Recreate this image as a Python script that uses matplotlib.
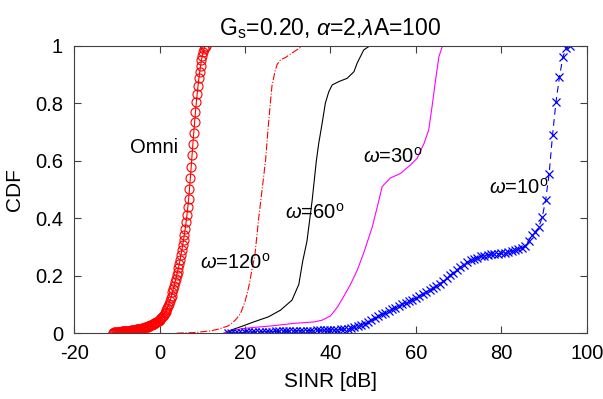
import matplotlib
matplotlib.use('Agg')
import matplotlib.pyplot as plt

plt.rcParams['font.family'] = ['Liberation Sans', 'DejaVu Sans']
plt.rcParams['mathtext.fontset'] = 'custom'
plt.rcParams['mathtext.rm'] = 'Liberation Sans'
plt.rcParams['mathtext.it'] = 'Liberation Sans:italic'
plt.rcParams['axes.unicode_minus'] = False

# Omni (red circles)
omni_x = [-11.0, -10.8, -10.6, -10.4, -10.2, -10.0, -9.8, -9.6, -9.4, -9.2,
          -9.0, -8.8, -8.6, -8.4, -8.2, -8.0, -7.8, -7.6, -7.4, -7.2,
          -7.0, -6.8, -6.6, -6.4, -6.2, -6.0, -5.8, -5.6, -5.4, -5.2,
          -5.0, -4.8, -4.6, -4.4, -4.2, -4.0, -3.8, -3.6, -3.4, -3.2,
          -3.0, -2.8, -2.6, -2.4, -2.2, -2.0, -1.8, -1.6, -1.4, -1.2,
          -1.0, -0.8, -0.6, -0.4, -0.2, 0.0, 0.2, 0.4, 0.6, 0.8,
          1.0, 1.2, 1.4, 1.6, 1.8, 2.0, 2.2, 2.4, 2.6, 2.8,
          3.0, 3.2, 3.4, 3.6, 3.8, 4.0, 4.2, 4.4, 4.6, 4.8,
          5.0, 5.2, 5.4, 5.6, 5.8, 6.0, 6.2, 6.4, 6.6, 6.8,
          7.0, 7.2, 7.4, 7.6, 7.8, 8.0, 8.2, 8.4, 8.6, 8.8,
          9.0, 9.2, 9.4, 9.6, 9.8, 10.0, 10.2, 10.4, 10.6, 10.8]
omni_cdf = [0.002, 0.002, 0.003, 0.003, 0.003, 0.004, 0.004, 0.004, 0.005, 0.005,
            0.005, 0.006, 0.006, 0.006, 0.007, 0.007, 0.007, 0.008, 0.008, 0.008,
            0.009, 0.009, 0.010, 0.010, 0.011, 0.011, 0.012, 0.012, 0.013, 0.013,
            0.014, 0.015, 0.015, 0.016, 0.017, 0.018, 0.019, 0.019, 0.020, 0.021,
            0.022, 0.023, 0.024, 0.025, 0.027, 0.028, 0.030, 0.031, 0.033, 0.034,
            0.036, 0.038, 0.040, 0.042, 0.044, 0.046, 0.049, 0.052, 0.056, 0.060,
            0.064, 0.069, 0.075, 0.081, 0.088, 0.095, 0.103, 0.112, 0.121, 0.131,
            0.142, 0.153, 0.165, 0.177, 0.189, 0.201, 0.214, 0.227, 0.241, 0.256,
            0.272, 0.289, 0.306, 0.324, 0.343, 0.363, 0.386, 0.411, 0.438, 0.468,
            0.502, 0.540, 0.580, 0.620, 0.660, 0.698, 0.735, 0.770, 0.803, 0.833,
            0.861, 0.887, 0.910, 0.931, 0.950, 0.966, 0.979, 0.989, 0.996, 1.000]

# omega = 120 deg (red dash-dot)
w120_x = [4.0, 8.0, 12.0, 14.0, 16.0, 17.0, 18.0, 19.0, 20.0, 20.5, 21.0, 21.6,
          22.3, 23.2, 24.0, 24.8, 25.5, 26.3, 27.0, 27.5, 28.3, 29.5, 31.0, 33.0, 33.5]
w120_cdf = [0.0, 0.002, 0.008, 0.015, 0.025, 0.035, 0.05, 0.07, 0.11, 0.138, 0.17, 0.22,
            0.27, 0.40, 0.50, 0.60, 0.73, 0.86, 0.91, 0.935, 0.951, 0.96, 0.975, 0.995, 1.0]

# omega = 60 deg (black)
w60_x = [15.2, 16.6, 19.3, 22.0, 25.5, 28.3, 31.0, 32.6, 33.5, 34.5, 35.7, 36.7,
         37.25, 38.05, 38.8, 39.6, 40.4, 42.0, 43.9, 45.5, 46.25, 47.8, 49.0, 50.5]
w60_cdf = [0.0, 0.01, 0.024, 0.039, 0.057, 0.08, 0.115, 0.17, 0.25, 0.32, 0.46, 0.60,
           0.66, 0.73, 0.80, 0.84, 0.864, 0.876, 0.887, 0.91, 0.94, 0.986, 0.998, 1.0]

# omega = 30 deg (magenta)
w30_x = [15.0, 16.6, 19.0, 22.0, 26.0, 31.4, 36.1, 38.0, 40.0, 41.6, 43.0, 44.7,
         46.3, 47.8, 49.8, 51.3, 52.1, 54.0, 56.4, 58.7, 60.3, 61.9, 63.0, 63.8,
         64.6, 65.4, 66.2, 68.0]
w30_cdf = [0.0, 0.007, 0.015, 0.02, 0.025, 0.034, 0.039, 0.045, 0.06, 0.09, 0.125, 0.17,
           0.22, 0.28, 0.37, 0.46, 0.51, 0.54, 0.556, 0.585, 0.609, 0.66, 0.707, 0.79,
           0.88, 0.963, 0.998, 1.0]

# omega = 10 deg (blue crosses, dashed)
w10_x = [16.0, 16.8, 17.6, 18.4, 19.2, 20.0, 20.8, 21.6, 22.4, 23.2,
         24.0, 24.8, 25.6, 26.4, 27.2, 28.0, 28.8, 29.6, 30.4, 31.2,
         32.0, 32.8, 33.6, 34.4, 35.2, 36.0, 36.8, 37.6, 38.4, 39.2,
         40.0, 40.8, 41.6, 42.4, 43.2, 44.0, 44.8, 45.6, 46.4, 47.2,
         48.0, 48.8, 49.6, 50.4, 51.2, 52.0, 52.8, 53.6, 54.4, 55.2,
         56.0, 56.8, 57.6, 58.4, 59.2, 60.0, 60.8, 61.6, 62.4, 63.2,
         64.0, 64.8, 65.6, 66.4, 67.2, 68.0, 68.8, 69.6, 70.4, 71.2,
         72.0, 72.8, 73.6, 74.4, 75.2, 76.0, 76.8, 77.6, 78.4, 79.2,
         80.0, 80.8, 81.6, 82.4, 83.2, 84.0, 84.8, 85.6, 86.4, 87.2,
         88.0, 88.8, 89.6, 90.4, 91.2, 92.0, 92.8, 93.6, 94.4, 95.2, 96.0]
w10_cdf = [0.000, 0.001, 0.001, 0.002, 0.002, 0.003, 0.003, 0.003, 0.004, 0.004,
           0.004, 0.005, 0.005, 0.005, 0.006, 0.006, 0.006, 0.007, 0.007, 0.007,
           0.008, 0.008, 0.008, 0.009, 0.009, 0.009, 0.010, 0.010, 0.010, 0.011,
           0.011, 0.012, 0.012, 0.013, 0.014, 0.015, 0.017, 0.020, 0.024, 0.028,
           0.033, 0.039, 0.045, 0.052, 0.059, 0.065, 0.071, 0.077, 0.083, 0.089,
           0.095, 0.100, 0.106, 0.111, 0.117, 0.123, 0.129, 0.136, 0.143, 0.150,
           0.157, 0.164, 0.172, 0.181, 0.191, 0.201, 0.211, 0.221, 0.230, 0.239,
           0.247, 0.254, 0.259, 0.263, 0.267, 0.270, 0.272, 0.274, 0.275, 0.277,
           0.278, 0.280, 0.283, 0.286, 0.289, 0.293, 0.297, 0.305, 0.322, 0.340,
           0.352, 0.370, 0.405, 0.465, 0.555, 0.690, 0.805, 0.890, 0.960, 0.992, 1.000]

labels = ['Omni', r'$\omega$=120$^{\rm o}$', r'$\omega$=60$^{\rm o}$',
          r'$\omega$=30$^{\rm o}$', r'$\omega$=10$^{\rm o}$']
label_x = [-1.3, 17.7, 36.2, 54.5, 84.0]
label_y = [0.645, 0.247, 0.418, 0.613, 0.505]

fig = plt.figure(figsize=(6.03, 3.99), dpi=100)
ax = fig.add_axes([0.123, 0.165, 0.850, 0.720])

ax.plot(omni_x, omni_cdf, '-o', color='red', lw=0.8, ms=6.5, mfc='none', mew=0.8)
ax.plot(w120_x, w120_cdf, '-.', color='red', lw=0.8)
ax.plot(w60_x, w60_cdf, '-', color='black', lw=0.8)
ax.plot(w30_x, w30_cdf, '-', color='magenta', lw=0.8)
ax.plot(w10_x, w10_cdf, '--x', color='blue', lw=0.8, ms=6, mew=0.9,
        dashes=(6, 4))

for t, x, y in zip(labels, label_x, label_y):
    ax.text(x, y, t, fontsize=14.5, ha='center', va='center')

ax.set_xlim(-20, 100)
ax.set_ylim(0, 1)
ax.set_xticks([-20, 0, 20, 40, 60, 80, 100])
ax.set_yticks([0, 0.2, 0.4, 0.6, 0.8, 1])
ax.set_yticklabels(['0', '0.2', '0.4', '0.6', '0.8', '1'])
ax.tick_params(direction='in', top=True, right=True, labelsize=14.5, length=5,
               color='#404040', width=0.8)
ax.tick_params(axis='x', pad=8)
ax.tick_params(axis='y', pad=8)
for s in ax.spines.values():
    s.set_color('#404040')
    s.set_linewidth(0.8)

ax.set_xlabel('SINR [dB]', fontsize=15, labelpad=6)
ax.set_ylabel('CDF', fontsize=15, labelpad=8)
ax.set_title(r'G$_{\rm s}$=0.20, $\alpha$=2,$\lambda$A=100', fontsize=16.5, pad=8)

fig.savefig('out.png', dpi=100)
